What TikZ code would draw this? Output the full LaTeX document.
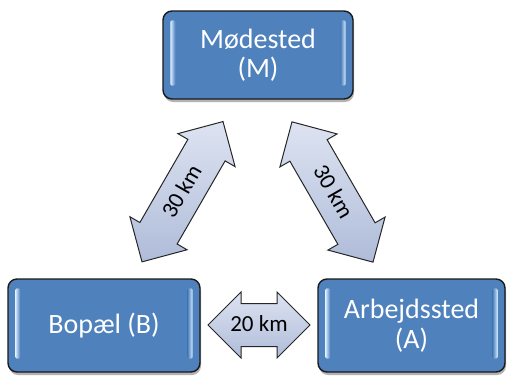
\documentclass[tikz,border=0pt]{standalone}
\usepackage{fontspec}
\setmainfont{Carlito}
\usetikzlibrary{shapes.arrows,shadows,calc}
\definecolor{boxblue}{HTML}{4F81BD}
\definecolor{boxline}{HTML}{1A1A1A}
\definecolor{hilite}{HTML}{D9EEFF}
\definecolor{arrtop}{HTML}{DDE3F1}
\definecolor{arrbot}{HTML}{AFBCD9}
\begin{document}
\begin{tikzpicture}[x=1pt,y=1pt,
  gbox/.style={draw=boxline, line width=1.4pt, fill=boxblue, rounded corners=9pt,
    inner sep=0pt, align=center, text=white,
    font=\fontsize{28}{29.5}\selectfont,
    drop shadow={shadow xshift=1pt, shadow yshift=-3pt, opacity=.3, fill=black}},
  darrow/.style={double arrow, double arrow head extend=11.5pt, double arrow tip angle=90,
    draw=black!85, line width=1pt, top color=arrtop, bottom color=arrbot,
    inner xsep=0pt, inner ysep=10.5pt, text height=17pt, text depth=4pt,
    minimum height=#1, font=\fontsize{23}{27}\selectfont, text=black},
  hl/.style={rounded corners=2pt}
]
\useasboundingbox (0,0) rectangle (508,376);

\node[gbox, minimum width=190pt, minimum height=88pt] (M) at (258,321) {Mødested\\(M)};
\node[gbox, minimum width=192pt, minimum height=93pt] (B) at (104,50.5) {Bopæl (B)};
\node[gbox, minimum width=187pt, minimum height=93pt] (A) at (411.5,50.5) {Arbejdssted\\(A)};

\foreach \n in {M,B,A}{
  \shade[hl, left color=hilite, right color=boxblue]
    ($(\n.north west)+(8,-10)$) rectangle ($(\n.south west)+(13,14)$);
  \shade[hl, right color=hilite, left color=boxblue]
    ($(\n.north east)+(-13,-10)$) rectangle ($(\n.south east)+(-8,14)$);
}

\node[darrow=102pt] (BA) at (259,51) {20 km};
\node[darrow=162pt, rotate=60] (BM) at (182.5,184.3) {30 km};
\node[darrow=162pt, rotate=-60] (MA) at (332.5,184) {30 km};
\end{tikzpicture}
\end{document}
